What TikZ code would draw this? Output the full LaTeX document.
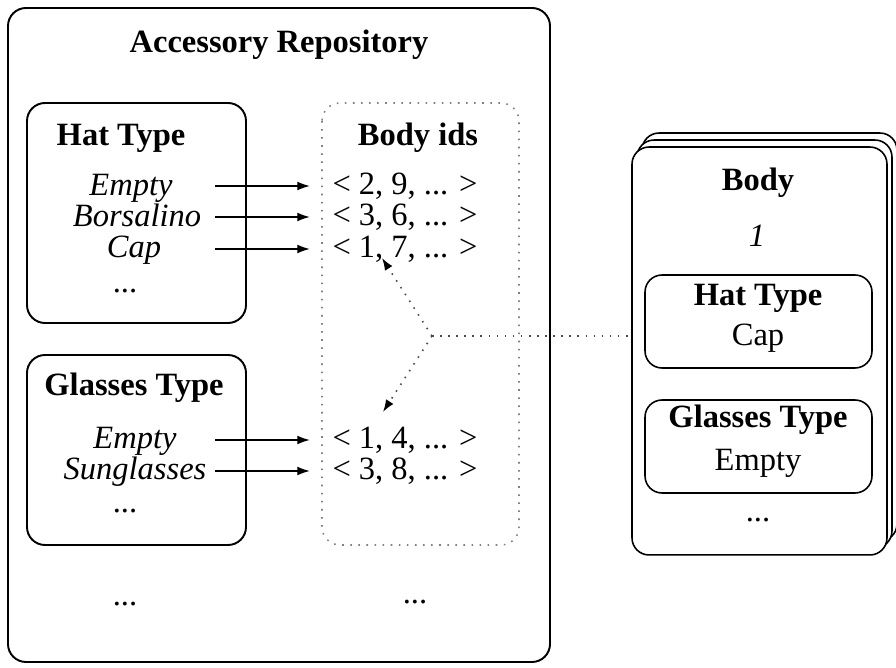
\documentclass[tikz,border=0pt]{standalone}
\usepackage{fontspec}
\setmainfont{Liberation Serif}
\usetikzlibrary{arrows.meta}

\tikzset{
  frame/.style={draw, line width=1.1pt, rounded corners=0.36cm},
  card/.style={draw, line width=0.9pt, rounded corners=0.34cm, fill=white},
  ids/.style={draw=gray, line width=0.9pt, dash pattern=on 0.9pt off 3.7pt, rounded corners=0.36cm},
  head/.style={font=\bfseries},
  entry/.style={font=\itshape, inner sep=0pt, text height=0.7em, text depth=0.15em},
  idlist/.style={inner sep=2pt},
  ptr/.style={-{Latex[length=7pt,width=5pt]}, line width=0.6pt, shorten >=0.38cm},
  link/.style={draw=gray!60!black, line width=0.9pt, dash pattern=on 0.9pt off 3.7pt},
}

\begin{document}
\fontsize{18.5}{22}\selectfont
\begin{tikzpicture}[x=0.02cm, y=-0.02cm]
\useasboundingbox (0,0) rectangle (896,668);

% Repositorio
\draw [frame] (8,8) rectangle (550,662);
\node [head] (repo) at (279,45) {Accessory Repository};

% Hat Type
\draw [frame] (27,103) rectangle (246,323);
\node [head] (hat) at (121,138) {Hat Type};
\node [entry] (h1) at (131,187) {Empty};
\node [entry] (h2) at (137,218) {Borsalino};
\node [entry] (h3) at (134,249) {Cap};
\node [inner sep=0pt] (hdots) at (125,291) {...};

% Glasses Type
\draw [frame] (27,355) rectangle (246,545);
\node [head] (glasses) at (134,388) {Glasses Type};
\node [entry] (g1) at (135,440) {Empty};
\node [entry] (g2) at (135,471) {Sunglasses};
\node [inner sep=0pt] (gdots) at (125,511) {...};

% Body ids
\draw [ids] (322,103) rectangle (519,545);
\node [head] (bodyids) at (418,138) {Body ids};
\node [idlist] (l1) at (405,186) {< 2, 9, ... >};
\node [idlist] (l2) at (405,217) {< 3, 6, ... >};
\node [idlist] (l3) at (405,249) {< 1, 7, ... >};
\node [idlist] (l4) at (405,440) {< 1, 4, ... >};
\node [idlist] (l5) at (405,471) {< 3, 8, ... >};

\node (rdots1) at (125,604) {...};
\node (rdots2) at (415,602) {...};

% Flechas
\coordinate (tail) at (215,0);
\foreach \l in {l1,l2,l3,l4,l5}
  \draw [ptr] (\l.west -| tail) -- (\l.west);

% Body (pila)
\foreach \s in {2,1}
  \node [card, minimum width=5.1cm, minimum height=8.16cm] at (759.5+5*\s,351-7*\s) {};
\node [card, minimum width=5.1cm, minimum height=8.16cm] (body) at (759.5,351) {};
\node [head] (bodyt) at (758,183) {Body};
\node [entry] (bodyn) at (757,238) {1};
\node [card, minimum width=4.54cm, minimum height=1.86cm] (bhat) at (758.5,321.5) {};
\node [head] at (758,298) {Hat Type};
\node (bcap) at (758,338) {Cap};
\node [card, minimum width=4.54cm, minimum height=1.86cm] (bglasses) at (758.5,446.5) {};
\node [head] at (758,420) {Glasses Type};
\node (bempty) at (758,463) {Empty};
\node (bdots) at (758,520) {...};

% Enlace punteado
\coordinate (fork) at (432,336);
\coordinate (hitA) at (382,258);
\coordinate (hitB) at (383,412);
\draw [link] (fork) -- (fork -| body.west);
\draw [link, -{Latex[length=7pt,width=5pt,color=black]}] (fork) -- (hitA);
\draw [link, -{Latex[length=7pt,width=5pt,color=black]}] (fork) -- (hitB);
\end{tikzpicture}
\end{document}
